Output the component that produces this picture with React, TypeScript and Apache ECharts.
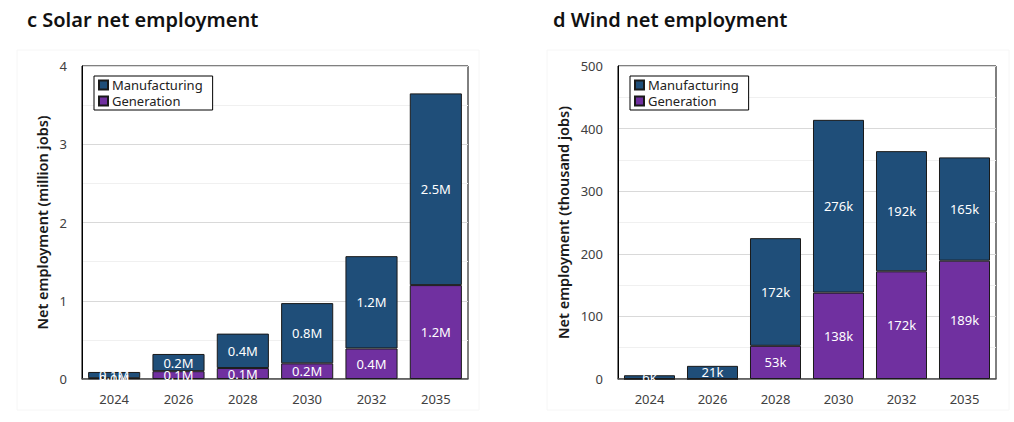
import React, { useEffect, useRef } from "react";
import * as echarts from "echarts";

const categories = ["2024", "2026", "2028", "2030", "2032", "2035"];
const solarGeneration = [0.01, 0.1, 0.14, 0.2, 0.39, 1.2];
const solarManufacturing = [0.08, 0.22, 0.44, 0.77, 1.18, 2.45];
const solarGenerationLabels = ["0.0M", "0.1M", "0.1M", "0.2M", "0.4M", "1.2M"];
const solarManufacturingLabels = ["0.1M", "0.2M", "0.4M", "0.8M", "1.2M", "2.5M"];
const windGeneration = [0, 0, 53, 138, 172, 189];
const windManufacturing = [6, 21, 172, 276, 192, 165];
const solarTicks = ["0", "1", "2", "3", "4"];
const windTicks = ["0", "100", "200", "300", "400", "500"];

const FONT = "'Noto Sans', 'Open Sans', sans-serif";
const MFG = "#1F4E79";
const GEN = "#7030A0";

export default function App() {
  const ref = useRef<HTMLDivElement>(null);
  useEffect(() => {
    if (!ref.current) return;
    const chart = echarts.init(ref.current, undefined, { renderer: "svg" });
    const grids = [
      { left: 82, top: 66, width: 386, height: 313 },
      { left: 618, top: 66, width: 378, height: 313 },
    ];
    const yAxisCommon = (idx: number, max: number, interval: number, name: string, gap: number, ticks: string[]) => ({
      type: "value",
      gridIndex: idx,
      min: 0,
      max,
      interval,
      name,
      nameLocation: "middle",
      nameGap: gap,
      nameTextStyle: { fontFamily: FONT, fontSize: 14.5, fontWeight: 600, color: "#1a1a1a" },
      axisLine: { show: true, lineStyle: { color: "#000", width: 1 } },
      axisTick: { show: false },
      axisLabel: {
        fontFamily: FONT,
        fontSize: 13,
        color: "#404040",
        margin: 15,
        formatter: (v: number) => ticks[Math.round(v / interval)] ?? "",
      },
      splitLine: { show: true, lineStyle: { color: "#d9d9d9", width: 1 } },
      minorTick: { show: false, splitNumber: 2 },
      minorSplitLine: { show: true, lineStyle: { color: "#f0f0f0", width: 1 } },
    });
    const xAxisCommon = (idx: number) => ({
      type: "category",
      gridIndex: idx,
      data: categories,
      axisLine: { show: true, lineStyle: { color: "#595959", width: 1.5 } },
      axisTick: { show: false },
      axisLabel: { fontFamily: FONT, fontSize: 13, color: "#404040", margin: 13 },
    });
    const labelStyle = {
      show: true,
      position: "inside",
      color: "#fff",
      fontFamily: FONT,
      fontSize: 13,
    };
    const legendCommon = (left: number) => ({
      left,
      top: 76,
      orient: "vertical",
      data: ["Manufacturing", "Generation"],
      itemWidth: 9,
      itemHeight: 9,
      itemGap: 2,
      icon: "rect",
      padding: [2, 10, 2, 4],
      borderColor: "#000",
      borderWidth: 1,
      backgroundColor: "#fff",
      textStyle: { fontFamily: FONT, fontSize: 13, lineHeight: 14, color: "#222", padding: [0, 0, 0, -1] },
    });
    const barBase = {
      type: "bar",
      barWidth: "81%",
      itemStyle: { borderColor: "#1a1a1a", borderWidth: 1 },
    };
    chart.setOption({
      animation: false,
      backgroundColor: "#fff",
      title: [
        { text: "c Solar net employment", left: 22, top: 4, textStyle: { fontFamily: FONT, fontSize: 20, fontWeight: 600, color: "#111" } },
        { text: "d Wind net employment", left: 548, top: 4, textStyle: { fontFamily: FONT, fontSize: 20, fontWeight: 600, color: "#111" } },
      ],
      grid: grids.map((g) => ({ ...g, show: true, borderColor: "#000", borderWidth: 1, backgroundColor: "transparent" })),
      legend: [legendCommon(94), legendCommon(630)],
      xAxis: [xAxisCommon(0), xAxisCommon(1)],
      yAxis: [
        yAxisCommon(0, 4, 1, "Net employment (million jobs)", 33, solarTicks),
        yAxisCommon(1, 500, 100, "Net employment (thousand jobs)", 48, windTicks),
      ],
      series: [
        {
          ...barBase,
          name: "Generation",
          stack: "solar",
          xAxisIndex: 0,
          yAxisIndex: 0,
          data: solarGeneration,
          itemStyle: { ...barBase.itemStyle, color: GEN },
          label: { ...labelStyle, formatter: (p: any) => solarGenerationLabels[p.dataIndex] },
        },
        {
          ...barBase,
          name: "Manufacturing",
          stack: "solar",
          xAxisIndex: 0,
          yAxisIndex: 0,
          data: solarManufacturing,
          itemStyle: { ...barBase.itemStyle, color: MFG },
          label: { ...labelStyle, formatter: (p: any) => solarManufacturingLabels[p.dataIndex] },
        },
        {
          ...barBase,
          name: "Generation",
          stack: "wind",
          xAxisIndex: 1,
          yAxisIndex: 1,
          data: windGeneration,
          itemStyle: { ...barBase.itemStyle, color: GEN },
          label: { ...labelStyle, formatter: (p: any) => (p.value > 0 ? `${p.value}k` : "") },
        },
        {
          ...barBase,
          name: "Manufacturing",
          stack: "wind",
          xAxisIndex: 1,
          yAxisIndex: 1,
          data: windManufacturing,
          itemStyle: { ...barBase.itemStyle, color: MFG },
          label: { ...labelStyle, formatter: (p: any) => (p.value > 0 ? `${p.value}k` : "") },
        },
      ],
      graphic: [
        { type: "rect", z: 100, silent: true, shape: { x: 83, y: 380, width: 386, height: 10 }, style: { fill: "#fff" } },
        { type: "rect", z: 100, silent: true, shape: { x: 619, y: 380, width: 378, height: 10 }, style: { fill: "#fff" } },
        { type: "rect", z: -1, silent: true, shape: { x: 17, y: 50, width: 462, height: 360 }, style: { fill: "none", stroke: "#f6f6f6", lineWidth: 1 } },
        { type: "rect", z: -1, silent: true, shape: { x: 547, y: 50, width: 462, height: 360 }, style: { fill: "none", stroke: "#f6f6f6", lineWidth: 1 } },
      ],
    });
    return () => chart.dispose();
  }, []);
  return (
    <div
      ref={ref}
      style={{ position: "fixed", left: 0, top: 0, width: 1014, height: 422, background: "#fff" }}
    />
  );
}
